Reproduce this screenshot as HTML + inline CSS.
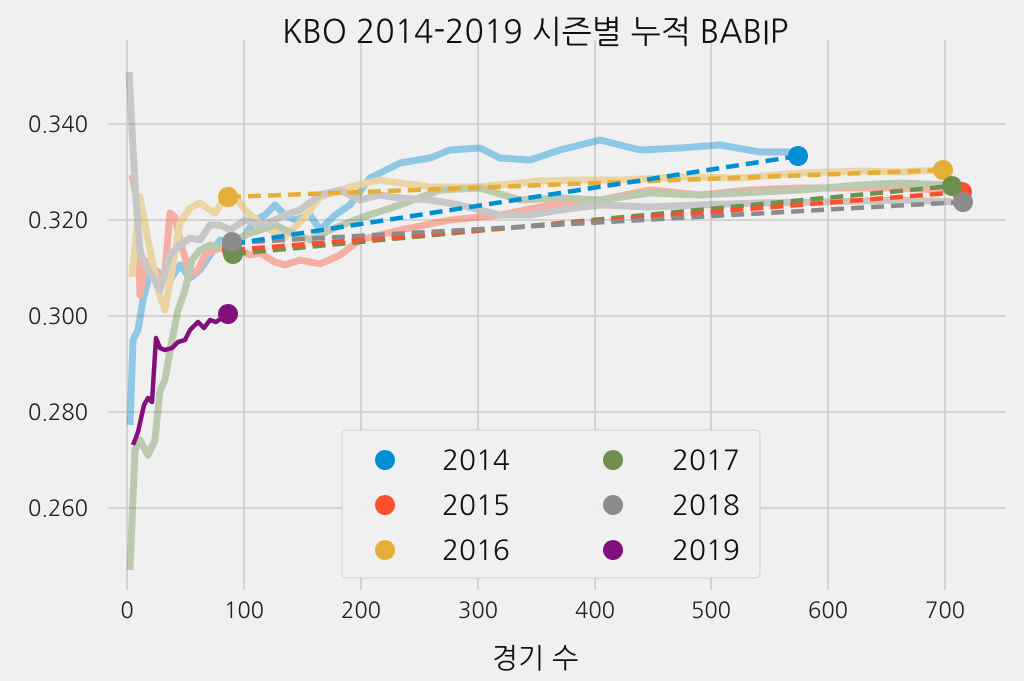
<!DOCTYPE html>
<html><head><meta charset="utf-8"><style>
html,body{margin:0;padding:0;background:#f0f0f0;}
svg{display:block;font-family:"NanumGothic","Liberation Sans","Noto Sans CJK KR",sans-serif;}
</style></head><body>
<svg width="1024" height="681" viewBox="0 0 1024 681" xmlns="http://www.w3.org/2000/svg">
<rect width="1024" height="681" fill="#f0f0f0"/>
<g stroke="#cbcbcb" stroke-width="1.5">
<line x1="127" y1="40" x2="127" y2="590"/><line x1="244" y1="40" x2="244" y2="590"/>
<line x1="361" y1="40" x2="361" y2="590"/><line x1="478" y1="40" x2="478" y2="590"/>
<line x1="595" y1="40" x2="595" y2="590"/><line x1="711" y1="40" x2="711" y2="590"/>
<line x1="828" y1="40" x2="828" y2="590"/><line x1="945" y1="40" x2="945" y2="590"/>
<line x1="108" y1="124" x2="1005" y2="124"/><line x1="108" y1="220" x2="1005" y2="220"/>
<line x1="108" y1="316" x2="1005" y2="316"/><line x1="108" y1="412" x2="1005" y2="412"/>
<line x1="108" y1="508" x2="1005" y2="508"/>
</g>
<g font-size="22" fill="#222" text-anchor="end">
<text x="88" y="132">0.340</text><text x="88" y="228">0.320</text><text x="88" y="324">0.300</text>
<text x="88" y="420">0.280</text><text x="88" y="516">0.260</text>
</g>
<g font-size="22" fill="#222" text-anchor="middle">
<text x="127" y="618">0</text><text x="244" y="618">100</text><text x="361" y="618">200</text><text x="478" y="618">300</text>
<text x="595" y="618">400</text><text x="711" y="618">500</text><text x="828" y="618">600</text><text x="945" y="618">700</text>
</g>
<text x="535" y="43" font-size="32" text-anchor="middle" fill="#111">KBO 2014-2019 시즌별 누적 BABIP</text>
<text x="535" y="668" font-size="28" text-anchor="middle" fill="#111">경기 수</text>
<g fill="none" stroke-width="7" stroke-linejoin="round" opacity="0.4">
<polyline stroke="#008fd5" points="130,425 133,340 138,330 143,300 148,280 155,270 162,275 170,280 180,265 190,278 200,270 210,255 220,240 230,245 245,235 255,220 265,215 275,205 285,215 295,220 310,215 320,230 335,215 350,205 370,178 400,163 430,158 450,150 480,148 500,158 530,160 560,150 600,140 640,150 680,148 720,145 760,152 790,152 798,155"/>
<polyline stroke="#fc4f30" points="132,175 137,200 140,295 145,265 150,260 160,280 165,270 170,213 175,217 180,240 190,275 198,270 205,255 215,250 225,245 240,250 250,255 260,253 275,262 285,265 300,260 320,264 340,255 360,240 380,235 400,230 450,220 500,215 550,205 600,200 650,190 700,195 750,190 800,188 850,188 900,188 940,190 962,192"/>
<polyline stroke="#e5ae38" points="132,277 140,197 148,240 158,290 165,310 172,270 180,223 190,208 200,203 215,213 230,190 245,210 265,227 285,237 305,217 320,197 350,187 380,180 400,183 430,187 470,187 500,185 540,181 580,180 620,180 680,177 740,178 800,173 860,171 900,172 940,170"/>
<polyline stroke="#6d904f" points="130,570 135,450 140,440 148,455 155,440 160,390 165,380 172,340 178,310 185,290 192,260 200,250 210,245 220,248 232,252 245,235 260,230 275,225 290,232 310,240 330,230 360,218 400,205 440,190 480,188 520,200 560,198 600,200 650,193 700,195 760,192 800,190 860,185 900,183 950,185"/>
<polyline stroke="#8b8b8b" points="129,72 132,130 136,200 140,250 145,265 152,275 160,290 170,255 180,245 190,238 200,240 210,225 220,225 230,230 245,220 260,225 270,222 285,215 300,210 320,195 340,190 360,200 380,195 400,198 430,200 460,205 500,215 530,215 560,210 600,205 650,207 700,205 760,203 820,202 900,200 960,202"/>
</g>
<polyline fill="none" stroke="#810f7c" stroke-width="4.5" stroke-linejoin="round" points="133,445 138,432 144,405 148,398 152,402 156,338 160,348 165,350 172,348 178,342 185,340 190,330 198,322 204,328 210,320 216,322 222,318 228,312 232,305"/>
<g stroke-width="4.5" stroke-dasharray="13,7" fill="none">
<line x1="228" y1="197" x2="943" y2="170" stroke="#e5ae38"/>
<line x1="233" y1="254" x2="952" y2="186" stroke="#6d904f"/>
<line x1="232" y1="250" x2="962" y2="192" stroke="#fc4f30"/>
<line x1="232" y1="243" x2="963" y2="202" stroke="#8b8b8b"/>
<line x1="232" y1="244" x2="798" y2="156" stroke="#008fd5"/>
</g>
<circle cx="798" cy="156" r="10" fill="#008fd5"/><circle cx="232" cy="244" r="10" fill="#008fd5"/>
<circle cx="962" cy="192" r="10" fill="#fc4f30"/><circle cx="232" cy="250" r="10" fill="#fc4f30"/>
<circle cx="943" cy="170" r="10" fill="#e5ae38"/><circle cx="228" cy="197" r="10" fill="#e5ae38"/>
<circle cx="952" cy="186" r="10" fill="#6d904f"/><circle cx="233" cy="254" r="10" fill="#6d904f"/>
<circle cx="963" cy="202" r="10" fill="#8b8b8b"/><circle cx="232" cy="242" r="10" fill="#8b8b8b"/>
<circle cx="228" cy="314" r="10" fill="#810f7c"/>
<rect x="342" y="430" width="418" height="148" rx="5" fill="#f0f0f0" stroke="#d0d0d0" stroke-width="1" opacity="0.95"/>
<g font-size="28" fill="#111">
<circle cx="385" cy="460" r="10" fill="#008fd5"/><text x="442" y="470">2014</text>
<circle cx="385" cy="505" r="10" fill="#fc4f30"/><text x="442" y="515">2015</text>
<circle cx="385" cy="550" r="10" fill="#e5ae38"/><text x="442" y="560">2016</text>
<circle cx="613" cy="460" r="10" fill="#6d904f"/><text x="672" y="470">2017</text>
<circle cx="613" cy="505" r="10" fill="#8b8b8b"/><text x="672" y="515">2018</text>
<circle cx="613" cy="550" r="10" fill="#810f7c"/><text x="672" y="560">2019</text>
</g>
</svg>
</body></html>
